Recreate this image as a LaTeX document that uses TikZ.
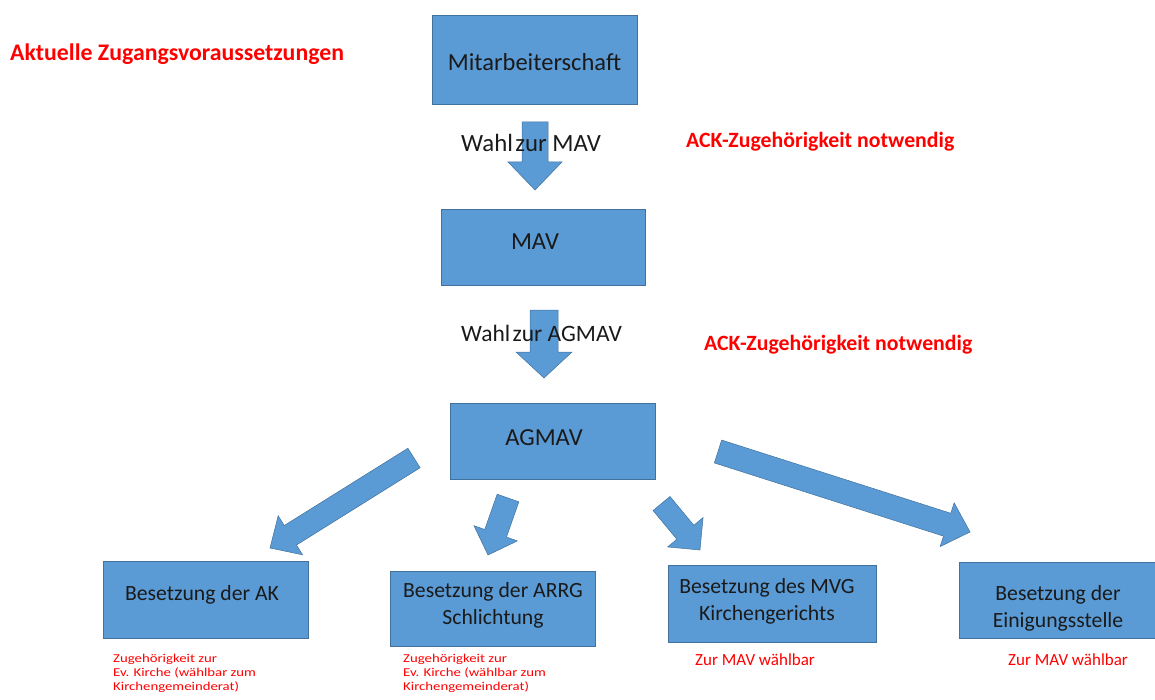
\documentclass[tikz,border=0pt]{standalone}
\usepackage{fontspec}
\setmainfont{Carlito}
\usetikzlibrary{calc}
\definecolor{boxblue}{HTML}{5B9BD5}
\definecolor{boxedge}{HTML}{41719C}
\definecolor{txt}{HTML}{1A1A1A}
\definecolor{redtxt}{HTML}{FF0000}
\tikzset{
  box/.style={draw=boxedge, fill=boxblue, line width=0.8pt, inner sep=0pt},
  boxtxt/.style={text=txt, font=\fontsize{21.7}{27}\selectfont, align=center, inner sep=0pt},
  bigtxt/.style={text=txt, font=\fontsize{24.5}{28}\selectfont, align=center, inner sep=0pt},
  headtxt/.style={text=redtxt, font=\bfseries\fontsize{23.8}{28}\selectfont, anchor=west, inner sep=0pt},
  acktxt/.style={text=redtxt, font=\bfseries\fontsize{21.8}{26}\selectfont, anchor=west, inner sep=0pt},
  wahltxt/.style={text=txt, font=\fontsize{24.8}{28}\selectfont, anchor=west, inner sep=0pt},
  note/.style={text=redtxt, font=\fontsize{12}{13.8}\selectfont\addfontfeature{FakeStretch=1.23}, align=left, anchor=north west, inner sep=0pt},
  note2/.style={text=redtxt, font=\fontsize{17}{20}\selectfont, anchor=west, inner sep=0pt},
  blockarrow/.style={fill=boxblue, draw=boxedge, line width=0.5pt, line join=miter},
}
% tail, tip, shaft half width, head half width, head length
\newcommand{\barrow}[5]{%
  \coordinate (bH) at ($(#2)!#5!(#1)$);
  \filldraw[blockarrow] ($(#1)!#3!90:(#2)$) -- ($(bH)!#3!90:(#2)$) -- ($(bH)!#4!90:(#2)$)
    -- (#2) -- ($(bH)!#4!-90:(#2)$) -- ($(bH)!#3!-90:(#2)$) -- ($(#1)!#3!-90:(#2)$) -- cycle;
}
\begin{document}
\begin{tikzpicture}[x=1pt, y=-1pt]
\useasboundingbox (0,0) rectangle (1155,700);
\clip (0,0) rectangle (1155,700);

% boxes
\node[box, minimum width=205, minimum height=89] (mit) at (534.5,59.5) {};
\node[box, minimum width=204, minimum height=76] (mav) at (543,247) {};
\node[box, minimum width=205, minimum height=76] (agmav) at (552.5,441) {};
\node[box, minimum width=205, minimum height=77] (ak) at (205.5,599.5) {};
\node[box, minimum width=205, minimum height=75] (arrg) at (492.5,608.5) {};
\node[box, minimum width=208, minimum height=77] (mvg) at (772,603.5) {};
\node[box, minimum width=206, minimum height=76] (eini) at (1062,600) {};

% block arrows
\coordinate (a1t) at (535,122);   \coordinate (a1h) at (535,190);
\coordinate (a2t) at (544,310);   \coordinate (a2h) at (544,378);
\coordinate (a3t) at (414,458);   \coordinate (a3h) at (270,548);
\coordinate (a4t) at (508,498);   \coordinate (a4h) at (488,555);
\coordinate (a5t) at (661.5,503.5); \coordinate (a5h) at (700,550);
\coordinate (a6t) at (718,451.5); \coordinate (a6h) at (970,532);
\barrow{a1t}{a1h}{13pt}{27pt}{28pt}
\barrow{a2t}{a2h}{14pt}{28pt}{26pt}
\barrow{a3t}{a3h}{11.5pt}{23pt}{24pt}
\barrow{a4t}{a4h}{11.5pt}{23pt}{23pt}
\barrow{a5t}{a5h}{11pt}{23pt}{23pt}
\barrow{a6t}{a6h}{12pt}{23pt}{24pt}

% box texts
\node[bigtxt] (tmit) at (534.5,62) {Mitarbeiterschaft};
\node[bigtxt] (tmav) at (535,242) {MAV};
\node[bigtxt] (tagmav) at (544,438) {AGMAV};
\node[boxtxt] (tak) at (202,595) {Besetzung der AK};
\node[boxtxt] (tarrg) at (493,605) {Besetzung der ARRG\\Schlichtung};
\node[boxtxt] (tmvg) at (767,601) {Besetzung des MVG\\Kirchengerichts};
\node[boxtxt] (teini) at (1058,608) {Besetzung der\\Einigungsstelle};

% labels
\node[headtxt] (title) at (10,54) {Aktuelle Zugangsvoraussetzungen};
\node[acktxt] (ack1) at (686,142) {ACK-Zugehörigkeit notwendig};
\node[acktxt] (ack2) at (704,345) {ACK-Zugehörigkeit notwendig};
\node[wahltxt] (w1) at (461,143) {Wahl\hspace{0.1em}zur MAV};
\node[wahltxt, font=\fontsize{23.5}{28}\selectfont] (w2) at (461,333) {Wahl\hspace{0.1em}zur AGMAV};

% notes
\node[note] (n1) at (113,654) {Zugehörigkeit zur\\Ev. Kirche (wählbar zum\\Kirchengemeinderat)};
\node[note] (n2) at (403,654) {Zugehörigkeit zur\\Ev. Kirche (wählbar zum\\Kirchengemeinderat)};
\node[note2] (n3) at (695,660) {Zur MAV wählbar};
\node[note2] (n4) at (1008,660) {Zur MAV wählbar};
\end{tikzpicture}
\end{document}
